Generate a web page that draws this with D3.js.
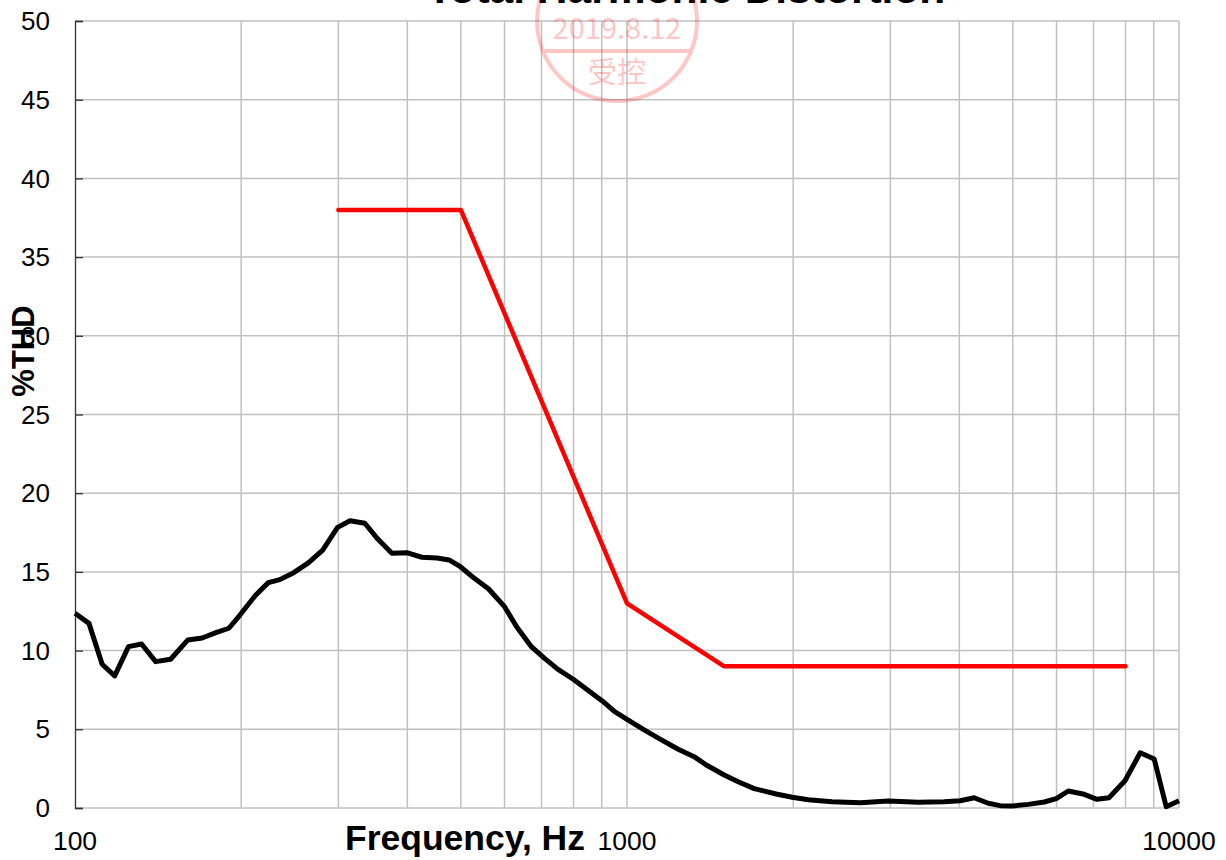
<!DOCTYPE html>
<meta charset="utf-8">
<style>
  body { margin: 0; background: #fff; }
  text { font-family: "Liberation Sans", Arial, sans-serif; }
</style>
<body>
<script src="https://d3js.org/d3.v7.min.js"></script>
<script>

var width = 1226,
    height = 860;

// measured THD curve (Hz, %THD)
var freq = [100, 106, 112, 118, 125, 132, 140, 149, 160, 170, 180, 190, 199, 212, 224, 235,
  249, 265, 281, 299, 315, 335, 354, 375, 399, 425, 453, 476, 499, 529, 561, 600,
  631, 671, 709, 750, 799, 852, 902, 950, 1005, 1074, 1148, 1238, 1323, 1392, 1500,
  1590, 1700, 1863, 1992, 2130, 2353, 2646, 2974, 3370, 3755, 4014, 4256, 4511, 4744,
  4988, 5332, 5700, 5992, 6301, 6736, 7102, 7467, 7983, 8506, 9018, 9481, 10000];
var thd = [12.37, 11.73, 9.13, 8.39, 10.25, 10.42, 9.30, 9.45, 10.67, 10.80, 11.14, 11.42, 12.26, 13.49, 14.32, 14.51,
  14.95, 15.59, 16.39, 17.83, 18.25, 18.09, 17.07, 16.18, 16.22, 15.93, 15.88, 15.76, 15.33, 14.59, 13.93, 12.79,
  11.52, 10.25, 9.51, 8.81, 8.18, 7.45, 6.80, 6.12, 5.59, 4.96, 4.38, 3.73, 3.26, 2.73, 2.10,
  1.67, 1.23, 0.89, 0.68, 0.53, 0.40, 0.34, 0.44, 0.36, 0.40, 0.46, 0.65, 0.30, 0.15,
  0.13, 0.23, 0.38, 0.59, 1.08, 0.87, 0.55, 0.65, 1.73, 3.51, 3.11, 0.08, 0.46];

// limit line
var limitFreq = [300, 500, 1000, 1500, 8000];
var limitThd = [38, 38, 13, 9, 9];

var yTicks = d3.range(0, 51, 5);
var xLabels = [100, 1000, 10000];
var xGrid = [];
[100, 1000].forEach(function(d) {
  for (var k = 2; k <= 10; k++) xGrid.push(d * k);
});

var x = d3.scaleLog().domain([100, 10000]).range([75, 1179]);
var y = d3.scaleLinear().domain([0, 50]).range([808, 21]);

var svg = d3.select("body").append("svg")
    .attr("width", width)
    .attr("height", height);

// grid
svg.append("g").selectAll("line").data(yTicks).enter().append("line")
    .attr("x1", x(100)).attr("x2", x(10000))
    .attr("y1", function(d) { return y(d); }).attr("y2", function(d) { return y(d); })
    .attr("stroke", "#c0c0c0").attr("stroke-width", 1.5);

svg.append("g").selectAll("line").data(xGrid).enter().append("line")
    .attr("x1", function(d) { return x(d); }).attr("x2", function(d) { return x(d); })
    .attr("y1", y(0)).attr("y2", y(50))
    .attr("stroke", "#c0c0c0").attr("stroke-width", 1.5);

// y axis
var yAxis = d3.axisRight(y).tickValues(yTicks).tickSize(8).tickFormat("");
var ya = svg.append("g").attr("transform", "translate(" + x(100) + ",0)").call(yAxis);
ya.selectAll("line, path").attr("stroke", "#333").attr("stroke-width", 1.3);

svg.append("g").selectAll("text").data(yTicks).enter().append("text")
    .attr("x", 50).attr("y", function(d) { return y(d); })
    .attr("dy", "0.35em")
    .attr("text-anchor", "end")
    .style("font-size", "26px")
    .text(function(d) { return d; });

svg.append("g").selectAll("text").data(xLabels).enter().append("text")
    .attr("x", function(d) { return x(d); }).attr("y", 850)
    .attr("text-anchor", "middle")
    .style("font-size", "26.5px")
    .text(function(d) { return d; });

// series
var line = d3.line()
    .x(function(d) { return x(d[0]); })
    .y(function(d) { return y(d[1]); });

svg.append("path")
    .datum(limitFreq.map(function(f, i) { return [f, limitThd[i]]; }))
    .attr("d", line)
    .attr("fill", "none").attr("stroke", "#ff0000")
    .attr("stroke-width", 4.5).attr("stroke-linejoin", "round").attr("stroke-linecap", "round");

svg.append("path")
    .datum(freq.map(function(f, i) { return [f, thd[i]]; }))
    .attr("d", line)
    .attr("fill", "none").attr("stroke", "#000")
    .attr("stroke-width", 5).attr("stroke-linejoin", "round");

// titles
svg.append("text")
    .attr("x", 686).attr("y", 3)
    .attr("text-anchor", "middle")
    .style("font-size", "42.5px").style("font-weight", "bold")
    .text("Total Harmonic Distortion");

svg.append("text")
    .attr("x", 465).attr("y", 850)
    .attr("text-anchor", "middle")
    .style("font-size", "35.5px").style("font-weight", "bold")
    .text("Frequency, Hz");

svg.append("text")
    .attr("transform", "translate(34,351) rotate(-90)")
    .attr("text-anchor", "middle")
    .style("font-size", "31px").style("font-weight", "bold")
    .text("%THD");

// stamp
var stamp = svg.append("g").attr("opacity", 0.22);
stamp.append("circle")
    .attr("cx", 617).attr("cy", 21).attr("r", 80)
    .attr("fill", "none").attr("stroke", "#ff0000").attr("stroke-width", 4);
stamp.append("line")
    .attr("x1", 542).attr("x2", 693).attr("y1", 51).attr("y2", 51)
    .attr("stroke", "#ff0000").attr("stroke-width", 4);
stamp.append("text")
    .attr("x", 617).attr("y", 39)
    .attr("text-anchor", "middle")
    .attr("fill", "#ff0000")
    .style("font-family", "'Noto Sans CJK SC', 'Noto Sans', sans-serif")
    .style("font-size", "29px")
    .text("2019.8.12");
stamp.append("text")
    .attr("x", 617).attr("y", 83)
    .attr("text-anchor", "middle")
    .attr("fill", "#ff0000")
    .style("font-family", "'Noto Sans CJK SC', sans-serif")
    .style("font-size", "29px")
    .text("受控");

</script>
